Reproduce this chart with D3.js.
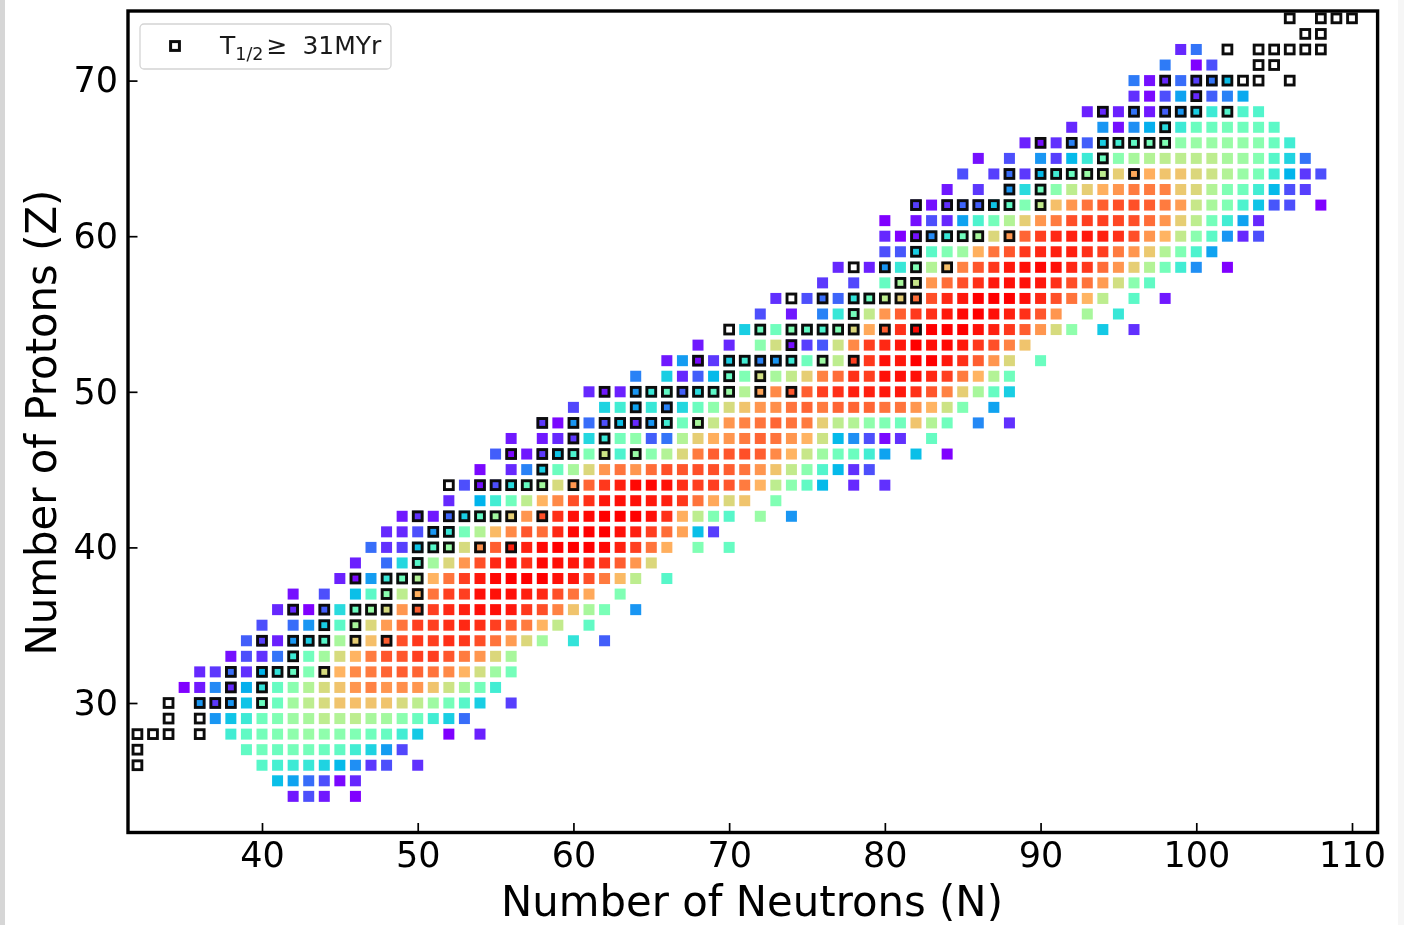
<!DOCTYPE html>
<html><head><meta charset="utf-8">
<script src="https://cdnjs.cloudflare.com/ajax/libs/d3/7.8.5/d3.min.js"></script>
<style>
html,body{margin:0;padding:0;background:#fff;overflow:hidden}
svg{display:block;filter:blur(0.45px)}
text{font-family:"DejaVu Sans";fill:#000}
</style></head><body><svg id="c" width="1404" height="925"></svg>
<script>
// Proton number of each row in rowValues
const protons = [24,25,26,27,28,29,30,31,32,33,34,35,36,37,38,39,40,41,42,43,44,45,46,47,48,49,50,51,52,53,54,55,56,57,58,59,60,61,62,63,64,65,66,67,68,69,70,71,72];
// Each row: first neutron number, then colour values (0-100) for consecutive N; null = no mark
const rowValues = [
[42,3,10,3,null,0],
[41,27,22,14,10,1,5],
[40,42,39,37,36,31,26,19,7,10,null,6],
[39,44,47,46,48,48,46,44,38,31,21,9],
[38,38,44,48,50,53,55,53,52,50,47,45,38,29,null,0,null,4],
[37,20,28,37,47,50,56,58,62,60,62,58,57,52,46,38,30,14],
[36,20,7,20,28,46,46,57,62,67,72,73,72,72,67,62,56,48,42,30,null,8],
[35,0,3,18,5,24,35,45,52,60,67,72,80,83,80,81,80,72,65,58,48,38],
[36,5,7,14,6,25,35,45,50,67,75,82,84,87,88,87,85,82,75,66,56,48],
[38,2,10,6,15,37,47,57,67,75,84,89,89,92,92,89,84,80,68,58],
[39,12,8,4,20,30,42,58,70,73,88,90,93,92,94,93,90,85,79,68,57,null,35,null,12],
[40,10,null,14,20,30,43,58,68,79,85,92,92,94,95,94,92,88,84,75,63,null,44],
[41,5,5,0,12,33,46,55,67,80,88,92,95,96,98,98,97,93,90,83,72,58,49,null,20],
[42,2,null,10,null,27,43,52,62,76,85,92,92,98,98,98,96,95,90,85,77,null,50],
[45,4,1,21,36,47,60,75,85,92,97,99,100,100,100,98,97,90,84,74,62,null,42],
[46,4,null,14,32,42,57,68,80,90,95,98,94,99,98,97,96,93,88,80,68],
[47,14,6,8,28,42,55,67,81,88,96,96,99,100,100,100,99,96,92,85,76,null,50,null,45],
[48,5,5,10,20,36,48,60,74,82,89,86,95,99,100,100,98,96,92,86,78,27,8],
[49,3,6,3,13,30,44,57,70,80,90,94,98,99,100,100,100,98,94,76,62,50,42,null,55,null,20],
[52,5,null,25,38,47,62,75,82,90,94,97,98,98,97,96,93,85,77,68,72,null,50],
[53,10,2,10,33,45,57,67,80,87,93,96,99,99,98,94,92,92,89,84,75,62,52,44,26,null,5,null,6],
[54,1,null,5,17,30,46,58,68,80,85,80,86,90,89,90,90,88,85,80,72,63,52,41,26,6,10],
[55,12,1,3,7,28,40,50,65,40,55,52,60,68,84,88,89,90,88,82,75,64,56,47,46,38,22,null,27,null,0],
[56,3,null,3,5,7,32,36,48,53,12,15,60,70,76,80,84,87,85,80,75,65,26,19,10,1,6,null,45],
[58,7,1,20,14,10,27,5,20,38,47,58,64,80,83,85,87,85,84,70,62,60,53,50,47,72,60,47,null,18,null,6],
[60,9,null,31,38,22,36,17,32,46,53,67,72,80,81,85,87,84,87,87,87,85,85,80,75,65,50,null,22],
[61,5,3,4,20,36,44,12,33,43,55,60,78,82,89,88,92,94,96,96,97,97,94,89,83,70,58,45,30],
[64,17,null,30,5,12,26,45,50,66,58,63,70,83,86,94,92,98,98,98,95,92,84,75,60,47],
[66,3,21,1,7,30,38,17,20,37,47,56,62,92,93,98,97,100,100,97,94,88,80,68,null,46],
[68,3,null,5,null,52,66,2,8,11,65,82,92,95,97,100,98,99,97,93,90,83,72],
[71,30,46,47,50,44,40,50,68,77,88,94,99,100,100,100,98,96,93,88,80,67,53,null,29,null,6],
[72,10,null,3,null,17,36,48,63,80,88,93,94,97,99,100,98,96,94,89,80,null,58,null,36],
[73,6,null,10,14,13,35,46,62,70,86,90,95,97,100,100,100,98,95,90,85,75,62,null,43,null,3],
[76,7,null,9,null,45,58,64,80,86,90,94,97,98,98,97,94,90,85,79,66,52,44],
[77,5,null,4,20,36,50,60,73,83,89,93,97,98,99,98,95,93,86,80,70,60,48,38,19,null,0],
[80,10,11,30,43,50,56,76,85,89,93,95,96,96,94,92,84,80,71,60,50,40,22],
[80,5,0,2,18,36,47,58,68,80,87,92,95,96,97,96,94,90,80,75,63,52,43,20,5,10],
[80,0,null,2,10,5,22,40,48,60,70,80,84,90,92,92,91,90,86,80,70,62,48,38,22,5],
[82,8,2,6,13,12,28,44,50,63,73,80,85,88,90,90,88,84,79,64,58,50,40,28,11,10,null,0],
[84,3,null,7,null,20,33,47,52,62,70,76,80,84,84,83,71,68,60,50,47,38,26,10,8],
[85,10,null,8,14,7,26,38,46,55,62,70,77,76,72,72,68,65,60,55,49,38,25,7,10],
[86,2,null,10,null,20,8,26,37,46,52,58,60,62,62,62,62,58,56,51,42,31,15],
[89,4,2,6,17,12,30,38,44,48,50,53,55,55,55,54,52,46,38],
[92,5,null,20,2,19,24,33,37,46,46,48,47,46,43],
[93,4,5,4,15,3,12,20,30,37,41,41,41],
[96,6,1,10,22,5,12,17,23],
[96,16,2,5,14,8,15,27],
[98,16,null,0,10],
[99,5,15]
];
// Long-lived nuclei (T1/2 >= 31 MYr): proton number and its neutron numbers
const stableZ = [26,27,28,29,30,31,32,33,34,35,36,37,38,39,40,41,42,44,45,46,47,48,49,50,51,52,53,54,55,56,57,58,59,60,62,63,64,65,66,67,68,69,70,71,72,73,74];
const stableN = [
[32],[32],[32,33,34,36],[34,36],[34,36,37,38,40],[38,40],[38,40,41,42,44],[42],
[40,42,43,44,46,48],[44,46],[42,44,46,47,48,50],[48,50],[46,48,49,50],[50],
[50,51,52,54,56],[51,52],[50,52,53,54,55,56,58],[52,54,55,56,57,58,60],[58],
[56,58,59,60,62,64],[60,62],[58,60,62,63,64,65,66,68],[64,66],
[62,64,65,66,67,68,69,70,72,74],[70,72],[68,70,71,72,73,74,76,78],[74],
[70,72,74,75,76,77,78,80,82],[78],[74,76,78,79,80,81,82],[81,82],[78,80,82,84],[82],
[82,83,84,85,86,88],[82,84,85,86,87,88,90],[88,90],[88,90,91,92,93,94,96],[94],
[90,92,94,95,96,97,98],[98],[94,96,98,99,100,102],[100],[98,100,101,102,103,104,106],
[104,105],[102,104,105,106,107,108],[107,108],[106,108,109,110]
];
const xTicks = [40,50,60,70,80,90,100,110];
const yTicks = [30,40,50,60,70];
const xTitle = "Number of Neutrons (N)";
const yTitle = "Number of Protons (Z)";

const svg = d3.select("#c");
const x = d3.scaleLinear().domain([40,110]).range([262,1352]);
const y = d3.scaleLinear().domain([30,70]).range([703,80.6]);
const rainbow = t => d3.rgb(
  255*Math.abs(2*t-0.5),
  255*Math.sin(Math.PI*t),
  255*Math.cos(Math.PI*t/2));
const colour = d3.scaleSequential(rainbow).domain([0,100]);

// page edge shading
svg.append("rect").attr("width",5).attr("height",925).attr("fill","#d6d6d6");
svg.append("rect").attr("x",1398).attr("width",6).attr("height",925).attr("fill","#f6f6f6");

const cells = protons.flatMap((z,i)=>{
  const [n0,...vals] = rowValues[i];
  return vals.map((v,j)=>({N:n0+j,Z:z,v})).filter(d=>d.v!==null);
});
const boxes = stableZ.flatMap((z,i)=>stableN[i].map(n=>({N:n,Z:z})));

const S = 11, B = 8.8;
svg.append("g").selectAll("rect").data(cells).join("rect")
  .attr("x",d=>x(d.N)-S/2).attr("y",d=>y(d.Z)-S/2)
  .attr("width",S).attr("height",S).attr("fill",d=>colour(d.v));
svg.append("g").selectAll("rect").data(boxes).join("rect")
  .attr("x",d=>x(d.N)-B/2).attr("y",d=>y(d.Z)-B/2)
  .attr("width",B).attr("height",B).attr("fill","none")
  .attr("stroke","#0c0c0c").attr("stroke-width",2.9);

// axes
const plotL=128, plotR=1377.6, plotT=11, plotB=832.5;
const ax = svg.append("g").attr("transform",`translate(0,${plotB})`)
  .call(d3.axisBottom(x).tickValues(xTicks).tickFormat(d3.format("d")).tickSize(-9.5).tickPadding(10));
const ay = svg.append("g").attr("transform",`translate(${plotL},0)`)
  .call(d3.axisLeft(y).tickValues(yTicks).tickFormat(d3.format("d")).tickSize(-9.5).tickPadding(10));
[ax,ay].forEach(a=>{
  a.select(".domain").remove();
  a.attr("font-family",null).attr("font-size",null);
  a.selectAll(".tick line").attr("stroke","#000").attr("stroke-width",1.7);
  a.selectAll(".tick text").style("font-size","35px").style("font-family","DejaVu Sans");
});
svg.append("rect").attr("x",plotL).attr("y",plotT).attr("width",plotR-plotL).attr("height",plotB-plotT)
  .attr("fill","none").attr("stroke","#000").attr("stroke-width",3.4);

// titles
svg.append("text").attr("x",752).attr("y",916).attr("text-anchor","middle")
  .style("font-size","41.8px").text(xTitle);
svg.append("text").attr("transform","translate(56,422.5) rotate(-90)").attr("text-anchor","middle")
  .style("font-size","41.8px").text(yTitle);

// legend
svg.append("rect").attr("x",140).attr("y",24).attr("width",251).attr("height",45).attr("rx",4)
  .attr("fill","#fff").attr("stroke","#d4d4d4").attr("stroke-width",1.3);
svg.append("rect").attr("x",175-4.4).attr("y",46-4.4).attr("width",B).attr("height",B)
  .attr("fill","none").attr("stroke","#0c0c0c").attr("stroke-width",3);
const lt = svg.append("text").attr("x",220).attr("y",54).style("font-size","25px").style("fill","#1a1a1a");
lt.append("tspan").text("T");
lt.append("tspan").attr("dy",6).style("font-size","17.5px").text("1/2");
lt.append("tspan").attr("dy",-6).attr("dx",3).text("\u2265");
lt.append("tspan").attr("dx",15).text("31MYr");
</script></body></html>
